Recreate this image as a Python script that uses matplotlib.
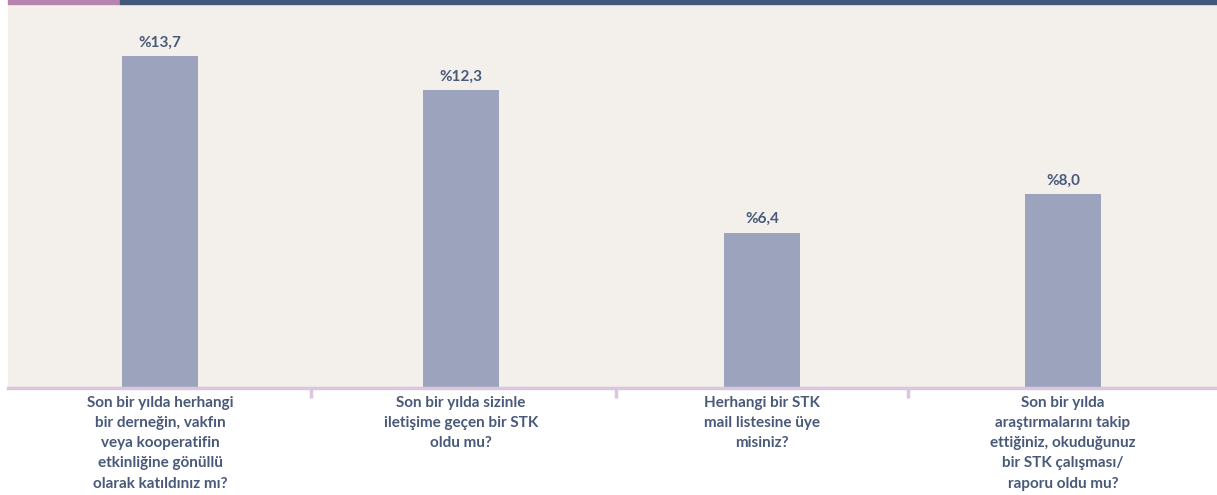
import matplotlib.pyplot as plt
from matplotlib.patches import Rectangle

questions = [
    "Son bir yılda herhangi\nbir derneğin, vakfın\nveya kooperatifin\netkinliğine gönüllü\nolarak katıldınız mı?",
    "Son bir yılda sizinle\niletişime geçen bir STK\noldu mu?",
    "Herhangi bir STK\nmail listesine üye\nmisiniz?",
    "Son bir yılda\naraştırmalarını takip\nettiğiniz, okuduğunuz\nbir STK çalışması/\nraporu oldu mu?",
]
values = [13.7, 12.3, 6.4, 8.0]
value_labels = ["%13,7", "%12,3", "%6,4", "%8,0"]

bg = "#F3F0EB"
bar_color = "#9BA4BC"
text_color = "#48597A"
line_color = "#DCC5DF"

plt.rcParams['font.family'] = ['Lato', 'DejaVu Sans']

W, H = 1217, 495
fig = plt.figure(figsize=(W / 100, H / 100), dpi=100)
fig.patch.set_facecolor("white")

# beige panel and the two-colour strip along the top
fig.patches.append(Rectangle((8 / W, 1 - 388 / H), 1 - 8 / W, 384 / H,
                             transform=fig.transFigure, color=bg, zorder=0))
fig.patches.append(Rectangle((8 / W, 1 - 4 / H), 112 / W, 4 / H,
                             transform=fig.transFigure, color="#B784AE", zorder=1))
fig.patches.append(Rectangle((120 / W, 1 - 4 / H), 1 - 120 / W, 4 / H,
                             transform=fig.transFigure, color="#44597A", zorder=1))

ax = fig.add_axes([9.5 / W, 1 - 388 / H, 1204 / W, 384 / H], zorder=3)
ax.patch.set_alpha(0)

x = list(range(len(values)))
ax.bar(x, values, width=76 / 301, color=bar_color, zorder=2)
for xi, v, lab in zip(x, values, value_labels):
    ax.annotate(lab, (xi, v), xytext=(0, 5), textcoords="offset points",
                ha="center", va="bottom", fontsize=11, fontweight="bold",
                color=text_color)

ax.set_xlim(-0.5, 3.5)
ax.set_ylim(0, 384 / 24.2)

for s in ["top", "left", "right"]:
    ax.spines[s].set_visible(False)
ax.spines["bottom"].set_color(line_color)
ax.spines["bottom"].set_linewidth(2.5)
ax.spines["bottom"].set_bounds(-0.5 - 1.5 / 301, 3.5 + 3.5 / 301)
ax.set_yticks([])

ax.set_xticks(x)
ax.set_xticklabels(questions, fontsize=11, fontweight="bold", color=text_color,
                   linespacing=1.55, va="top")
ax.tick_params(axis="x", which="major", length=0, pad=6)
ax.set_xticks([0.5, 1.515, 2.485], minor=True)
ax.tick_params(axis="x", which="minor", length=7, width=2.5, color=line_color)

fig.savefig("out.png", dpi=100)
